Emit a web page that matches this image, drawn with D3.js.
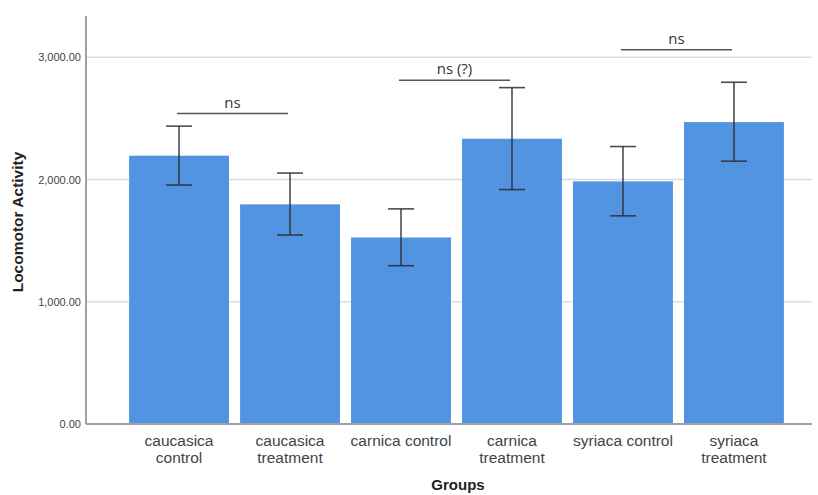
<!DOCTYPE html>
<html>
<head>
<meta charset="utf-8">
<script src="https://cdn.jsdelivr.net/npm/d3@7"></script>
<style>
  body { margin: 0; background: #fff; }
  svg { display: block; }
</style>
</head>
<body>
<div id="rootDiv"></div>
<script>
const groups = [
    "caucasica control",
    "caucasica treatment",
    "carnica control",
    "carnica treatment",
    "syriaca control",
    "syriaca treatment",
]
const groupLines = [
    ["caucasica", "control"],
    ["caucasica", "treatment"],
    ["carnica control"],
    ["carnica", "treatment"],
    ["syriaca control"],
    ["syriaca", "treatment"],
]
const means = [2195, 1797, 1526, 2334, 1985, 2470]
const errLow = [1955, 1546, 1295, 1918, 1703, 2150]
const errHigh = [2437, 2053, 1760, 2752, 2270, 2796]
const yTicks = [0, 1000, 2000, 3000]

// significance brackets: from group, to group, height (data units), label
const sigFrom = [0, 2, 4]
const sigTo = [1, 3, 5]
const sigLevel = [2540, 2812, 3062]
const sigLabel = ["ns", "ns (?)", "ns"]

const width = 818
const height = 495
const margin = { top: 16, right: 6, bottom: 71, left: 86 }
const labelFont = "Liberation Sans, Arial, sans-serif"

const svg = d3.select(document.getElementById("rootDiv"))
    .append("svg")
    .attr("width", width)
    .attr("height", height)

const x = d3.scaleBand()
    .domain(d3.range(groups.length))
    .range([118, 795])
    .padding(0.1)

const y = d3.scaleLinear()
    .domain([0, 3338])
    .range([height - margin.bottom, margin.top])

// gridlines
svg.append("g")
    .selectAll("line")
    .data(yTicks.filter(d => d > 0))
    .enter()
    .append("line")
    .attr("x1", margin.left)
    .attr("x2", width - margin.right)
    .attr("y1", d => y(d))
    .attr("y2", d => y(d))
    .style("stroke", "#dcdcdc")
    .style("stroke-width", 1.5)

// bars
svg.selectAll("rect.bar")
    .data(means)
    .enter()
    .append("rect")
    .attr("class", "bar")
    .attr("x", (_d, i) => x(i))
    .attr("y", d => y(d))
    .attr("width", x.bandwidth())
    .attr("height", d => y(0) - y(d))
    .attr("fill", "#5294e2")

// error bars
const cap = 13
const err = svg.append("g")
    .style("stroke", "#2e2e2e")
    .style("stroke-width", 1.6)
    .style("stroke-opacity", 0.85)
groups.forEach((_g, i) => {
    const cx = x(i) + x.bandwidth() / 2
    err.append("line").attr("x1", cx).attr("x2", cx)
        .attr("y1", y(errHigh[i])).attr("y2", y(errLow[i]))
    err.append("line").attr("x1", cx - cap).attr("x2", cx + cap)
        .attr("y1", y(errHigh[i])).attr("y2", y(errHigh[i]))
    err.append("line").attr("x1", cx - cap).attr("x2", cx + cap)
        .attr("y1", y(errLow[i])).attr("y2", y(errLow[i]))
})

// significance lines
sigLevel.forEach((lvl, k) => {
    const x1 = x(sigFrom[k]) + x.bandwidth() / 2 - 2
    const x2 = x(sigTo[k]) + x.bandwidth() / 2 - 2
    svg.append("line")
        .attr("x1", x1).attr("x2", x2)
        .attr("y1", y(lvl)).attr("y2", y(lvl))
        .style("stroke", "#555")
        .style("stroke-width", 1.6)
    svg.append("text")
        .attr("x", (x1 + x2) / 2)
        .attr("y", y(lvl) - 6)
        .attr("text-anchor", "middle")
        .attr("font-family", "Open Sans, Noto Sans, sans-serif")
        .attr("font-size", 15)
        .attr("fill", "#333")
        .text(sigLabel[k])
})

// y axis
const yAxis = svg.append("g")
    .attr("transform", `translate(${margin.left},0)`)
    .call(d3.axisLeft(y).tickValues(yTicks).tickSize(0).tickPadding(5)
        .tickFormat(d3.format(",.2f")))
yAxis.select("path").attr("d", `M0,${y(0)}V${margin.top}`)
    .style("stroke", "#a0a0a0").style("stroke-width", 2)
yAxis.selectAll("text")
    .attr("font-family", labelFont)
    .attr("font-size", 11)
    .style("fill", "#444")

// x axis
const xAxis = svg.append("g")
    .attr("transform", `translate(0,${y(0)})`)
    .call(d3.axisBottom(x).tickSize(0).tickFormat(""))
xAxis.select("path").attr("d", `M${margin.left},0H${width - margin.right}`)
    .style("stroke", "#a0a0a0").style("stroke-width", 2)

svg.append("g")
    .selectAll("text")
    .data(groupLines)
    .enter()
    .append("text")
    .attr("text-anchor", "middle")
    .attr("font-family", labelFont)
    .attr("font-size", 15.5)
    .attr("fill", "#444")
    .attr("x", (_d, i) => x(i) + x.bandwidth() / 2)
    .attr("y", y(0) + 22)
    .each(function (lines) {
        const t = d3.select(this)
        lines.forEach((l, j) => {
            t.append("tspan")
                .attr("x", t.attr("x"))
                .attr("dy", j === 0 ? 0 : 16.5)
                .text(l)
        })
    })

// axis titles
svg.append("text")
    .attr("x", 458)
    .attr("y", 490)
    .attr("text-anchor", "middle")
    .attr("font-family", labelFont)
    .attr("font-weight", "bold")
    .attr("font-size", 15)
    .attr("fill", "#222")
    .text("Groups")

svg.append("text")
    .attr("transform", "translate(23,222) rotate(-90)")
    .attr("text-anchor", "middle")
    .attr("font-family", labelFont)
    .attr("font-weight", "bold")
    .attr("font-size", 15.5)
    .attr("fill", "#222")
    .text("Locomotor Activity")
</script>
</body>
</html>
